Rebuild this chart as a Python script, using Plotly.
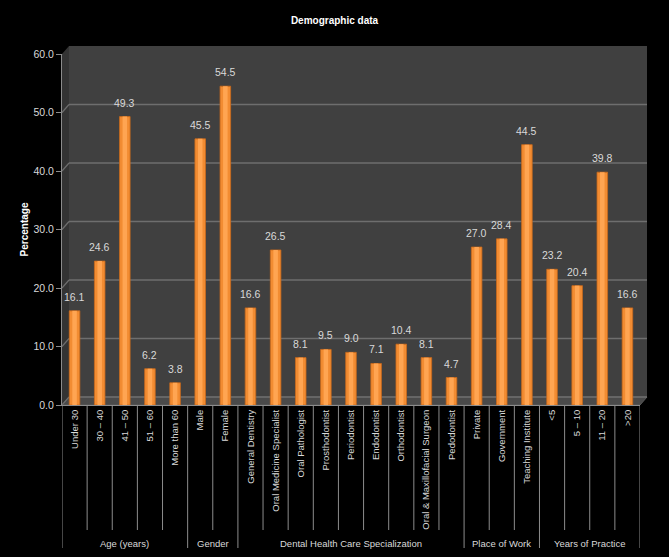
import plotly.graph_objects as go

# data
groups = ["Age (years)", "Gender", "Dental Health Care Specialization",
          "Place of Work", "Years of Practice"]
age = ["Under 30", "30 – 40", "41 – 50", "51 – 60", "More than 60"]
gender = ["Male", "Female"]
specialization = ["General Dentistry", "Oral Medicine Specialist", "Oral Pathologist",
                  "Prosthodontist", "Periodontist", "Endodontist", "Orthodontist",
                  "Oral & Maxillofacial Surgeon", "Pedodontist"]
work = ["Private", "Government", "Teaching Institute"]
practice = ["<5", "5 – 10", "11 – 20", ">20"]

age_pct = [16.1, 24.6, 49.3, 6.2, 3.8]
gender_pct = [45.5, 54.5]
specialization_pct = [16.6, 26.5, 8.1, 9.5, 9.0, 7.1, 10.4, 8.1, 4.7]
work_pct = [27.0, 28.4, 44.5]
practice_pct = [23.2, 20.4, 39.8, 16.6]

y_ticks = [0, 10, 20, 30, 40, 50, 60]

categories = age + gender + specialization + work + practice
values = age_pct + gender_pct + specialization_pct + work_pct + practice_pct
sizes = [len(age), len(gender), len(specialization), len(work), len(practice)]

C = {
    "bg": "#000000",
    "wall": "#404040",
    "side": "#333333",
    "floor": "#4a4a4a",
    "grid": "#6e6e6e",
    "axis": "#8c8c8c",
    "text": "#d9d9d9",
    "bar": "#f28c32",
    "bar_hi": "#ffa552",
}

PLOT_H = 351  # px, from margins below
PLOT_W = 578
DX, DY = 7, 8  # depth offset of back wall in px

fig = go.Figure()
fig.add_trace(go.Bar(x=categories, y=values, width=0.42,
                     marker=dict(color=C["bar"], line=dict(color="#c96a1c", width=0.8)),
                     showlegend=False, hoverinfo="x+y"))
fig.add_trace(go.Bar(x=categories, y=values, width=0.18,
                     marker=dict(color=C["bar_hi"], line=dict(width=0)),
                     showlegend=False, hoverinfo="skip"))

shapes = []
# back wall
shapes.append(dict(type="rect", xref="paper", yref="paper", layer="below",
                   x0=DX / PLOT_W, x1=1 + DX / PLOT_W,
                   y0=DY / PLOT_H, y1=1 + DY / PLOT_H,
                   fillcolor=C["wall"], line=dict(width=0)))
# left side wall
shapes.append(dict(type="path", xref="paper", yref="paper", layer="below",
                   path=f"M 0 0 L 0 1 L {DX/PLOT_W} {1 + DY/PLOT_H} L {DX/PLOT_W} {DY/PLOT_H} Z",
                   fillcolor=C["side"], line=dict(width=0)))
# floor
shapes.append(dict(type="path", xref="paper", yref="paper", layer="below",
                   path=f"M 0 0 L 1 0 L {1 + DX/PLOT_W} {DY/PLOT_H} L {DX/PLOT_W} {DY/PLOT_H} Z",
                   fillcolor=C["floor"], line=dict(color="#5a5a5a", width=1)))
# wall gridlines and depth connectors
for t in y_ticks:
    shapes.append(dict(type="line", xref="paper", yref="y", layer="below",
                       ysizemode="pixel", yanchor=t, y0=DY, y1=DY,
                       x0=DX / PLOT_W, x1=1 + DX / PLOT_W,
                       line=dict(color=C["grid"], width=1.6)))
    shapes.append(dict(type="line", xref="paper", yref="y", layer="below",
                       ysizemode="pixel", yanchor=t, y0=0, y1=DY,
                       x0=0, x1=DX / PLOT_W,
                       line=dict(color=C["grid"], width=1.2)))
# category separators under the axis
bounds = [0]
for s in sizes:
    bounds.append(bounds[-1] + s)
for i in range(len(categories) + 1):
    major = i in bounds
    shapes.append(dict(type="line", xref="x", yref="paper",
                       x0=i - 0.5, x1=i - 0.5, y0=0,
                       y1=-(143 if major else 125) / PLOT_H,
                       line=dict(color=C["axis"], width=1)))

annotations = []
# value labels above the bars
for cat, v in zip(categories, values):
    annotations.append(dict(text=f"{v:.1f}", xref="x", yref="y", x=cat, y=v,
                            yanchor="bottom", yshift=6, showarrow=False,
                            font=dict(color=C["text"], size=10.5)))
for g, a, b in zip(groups, bounds[:-1], bounds[1:]):
    annotations.append(dict(text=g, xref="x", yref="paper",
                            x=(a + b - 1) / 2, y=-138 / PLOT_H,
                            showarrow=False, yanchor="middle",
                            font=dict(color=C["text"], size=9.5)))

fig.update_layout(
    width=669, height=557,
    paper_bgcolor=C["bg"], plot_bgcolor="rgba(0,0,0,0)",
    font=dict(family="Liberation Sans, Arial, sans-serif", color=C["text"], size=10),
    margin=dict(l=62, r=29, t=54, b=152),
    barmode="overlay", bargap=0.58,
    title=dict(text="<b>Demographic data</b>", x=0.5, xanchor="center",
               y=1 - 20 / 557, yanchor="middle",
               font=dict(size=10, color="#ffffff")),
    shapes=shapes, annotations=annotations,
)
fig.update_xaxes(type="category", tickangle=-90, showgrid=False,
                 showline=True, linecolor=C["axis"], ticks="",
                 tickfont=dict(size=9.5, color=C["text"]),
                 range=[-0.5, len(categories) - 0.5])
fig.update_yaxes(range=[0, 60], tickvals=y_ticks,
                 ticktext=[f"{t:.1f}" for t in y_ticks],
                 showgrid=False, zeroline=False,
                 showline=True, linecolor=C["axis"], ticks="outside",
                 ticklen=5, tickcolor=C["axis"],
                 tickfont=dict(size=10.5, color=C["text"]),
                 title=dict(text="<b>Percentage</b>", standoff=2,
                            font=dict(size=10, color="#ffffff")))

fig.write_html("out.html", config={"displayModeBar": False},
               post_script="document.body.style.margin='0';"
                           "document.body.style.background='#000';")
